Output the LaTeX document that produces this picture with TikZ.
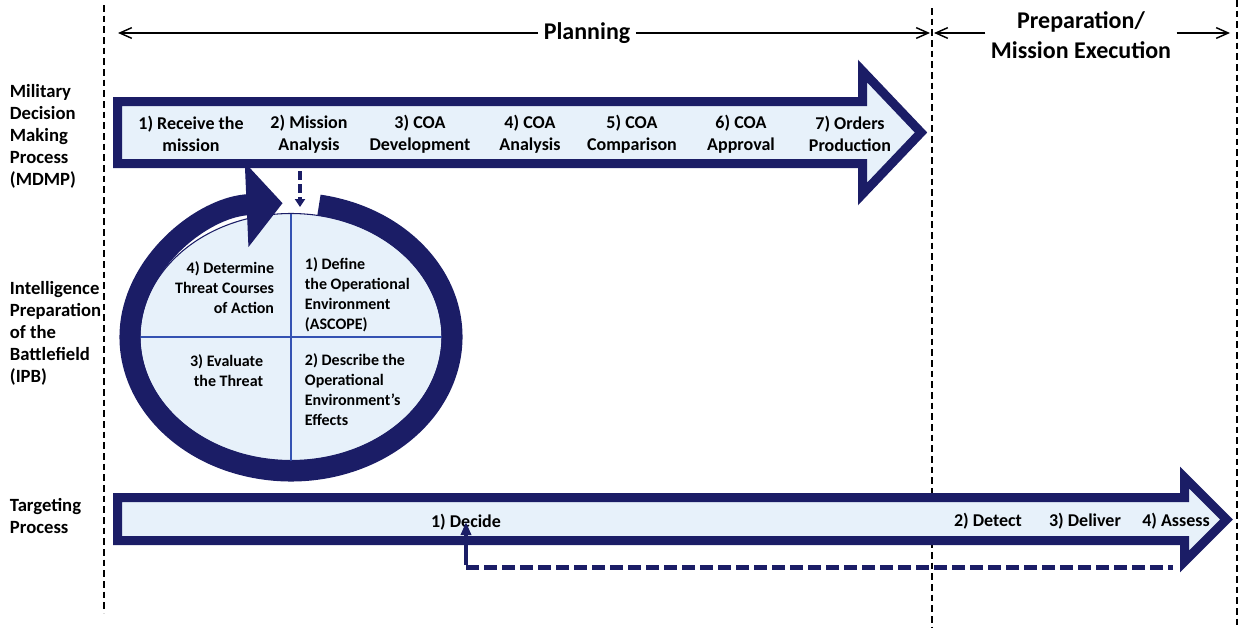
\documentclass[tikz,border=0pt]{standalone}
\usepackage{fontspec}
\setmainfont{Carlito}
\usetikzlibrary{arrows.meta, positioning}

\definecolor{navy}{RGB}{27,29,102}
\definecolor{paleblue}{RGB}{231,241,250}
\definecolor{gridblue}{RGB}{52,82,178}

\begin{document}
\begin{tikzpicture}[x=0.75pt, y=0.75pt, on grid,
    phase/.style={font=\fontsize{18}{22.5}\selectfont\bfseries, align=center, inner sep=4pt},
    lane/.style={font=\fontsize{14}{16.5}\selectfont\bfseries, align=left, anchor=west, inner sep=2pt},
    stage/.style={font=\fontsize{13.5}{16.5}\selectfont\bfseries, align=center, inner sep=2pt},
    quadtext/.style={font=\fontsize{12}{15}\selectfont\bfseries, inner sep=2pt},
    bigarrow/.style={draw=navy, line width=6.75pt, fill=paleblue, miter limit=20},
    divider/.style={line width=1.1pt, dash pattern=on 5pt off 3pt},
    spanline/.style={line width=1.1pt, -{Straight Barb[length=9pt, width=8pt]}},
    dropline/.style={navy, line width=2.3pt, dash pattern=on 6.75pt off 3pt, -{Triangle[length=6pt, width=7.5pt]}},
    loopdash/.style={navy, line width=3.75pt, dash pattern=on 9.75pt off 3.75pt},
    loopline/.style={navy, line width=2.5pt, -{Triangle[length=9.75pt, width=7.5pt]}}]
  \useasboundingbox (0,0) rectangle (1239,-628);

  \draw[divider] (104,-5) -- (104,-613);
  \draw[divider] (932,-8) -- (932,-628);
  \draw[divider] (1237,0) -- (1237,-628);

  \node[phase] (planning) at (587,-33) {Planning};
  \coordinate (plan west) at (118,-33);
  \coordinate (plan east) at (930,-33);
  \draw[spanline] (planning.west) -- (plan west);
  \draw[spanline] (planning.east) -- (plan east);

  \node[phase] (prep) at (1081,-35) {Preparation/\\Mission Execution};
  \coordinate (prep west) at (934,-33);
  \coordinate (prep east) at (1230,-33);
  \draw[spanline] (prep west -| prep.west) -- (prep west);
  \draw[spanline] (prep east -| prep.east) -- (prep east);

  \node[lane] (mdmp) at (7,-136) {Military\\Decision\\Making\\Process\\(MDMP)};
  \node[lane] (ipb) at (7,-333) {Intelligence\\Preparation\\of the\\Battlefield\\(IPB)};
  \node[lane] (targeting) at (7,-516) {Targeting\\Process};

  \draw[bigarrow] (117.5,-101.5) -- (862.5,-101.5) -- (862.5,-71) -- (921,-132.5)
    -- (862.5,-194) -- (862.5,-163.5) -- (117.5,-163.5) -- cycle;
  \draw[bigarrow] (117.5,-497.5) -- (1184.5,-497.5) -- (1184.5,-477.5) -- (1226.5,-519.5)
    -- (1184.5,-561.5) -- (1184.5,-540.5) -- (117.5,-540.5) -- cycle;

  \node[stage] (receive) at (191,-134) {1) Receive the\\mission};
  \node[stage] (analysis) [right=88.5pt of receive] {2) Mission\\Analysis};
  \node[stage] (develop) [right=83.25pt of analysis] {3) COA\\Development};
  \node[stage] (analyse) [right=82.5pt of develop] {4) COA\\Analysis};
  \node[stage] (compare) [right=76.5pt of analyse] {5) COA\\Comparison};
  \node[stage] (approve) [right=81.75pt of compare] {6) COA\\Approval};
  \node[stage] (orders) [right=81.75pt of approve] {7) Orders\\Production};

  \coordinate (ring c) at (291,-337);
  \filldraw[fill=paleblue, draw=navy, line width=0.8pt] (ring c) ellipse [x radius=151, y radius=123.5];
  \draw[gridblue, line width=1.1pt] (291,-213.5) -- (291,-460.5);
  \draw[gridblue, line width=1.1pt] (140,-337) -- (442,-337);
  \draw[navy, line width=15.75pt, -{Triangle[length=27pt, width=62pt]}]
    (ring c) ++(80:161 and 134) arc[start angle=80, end angle=-267, x radius=161, y radius=134];

  \node[quadtext, align=right, anchor=east] (determine) at (277,-288) {4) Determine\\Threat Courses\\of Action};
  \node[quadtext, align=left, anchor=west] (define) at (302,-295) {1) Define\\the Operational\\Environment\\(ASCOPE)};
  \node[quadtext, align=right, anchor=east] (evaluate) at (266,-371) {3) Evaluate\\the Threat};
  \node[quadtext, align=left, anchor=west] (describe) at (302,-390) {2) Describe the\\Operational\\Environment’s\\Effects};

  \coordinate (mdmp out) at (300,-171);
  \coordinate (ipb in) at (300,-207);
  \draw[dropline] (mdmp out) -- (ipb in);

  \node[stage] (decide) at (466,-522) {1) Decide};
  \node[stage] (detect) at (988,-521) {2) Detect};
  \node[stage] (deliver) [right=72.75pt of detect] {3) Deliver};
  \node[stage] (assess) [right=68.25pt of deliver] {4) Assess};

  \coordinate (loop start) at (1173,-567);
  \coordinate (loop corner) at (466,-567);
  \draw[loopdash] (loop corner) -- (loop start);
  \draw[loopline] ([yshift=1.5pt]loop corner) -- (decide.center);
\end{tikzpicture}
\end{document}
